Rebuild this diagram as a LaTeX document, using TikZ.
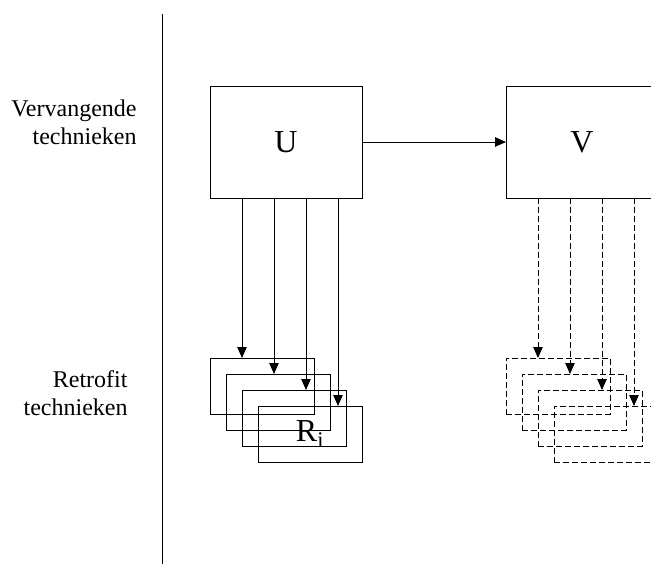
\documentclass[tikz,border=0pt]{standalone}
\usepackage{fontspec}
\setmainfont{Liberation Serif}
\usetikzlibrary{arrows.meta,calc}
\begin{document}
\begin{tikzpicture}[x=1pt,y=-1pt,
  line width=0.9pt,
  bigbox/.style={draw,minimum width=152pt,minimum height=112pt,inner sep=0pt,outer sep=0pt,font=\fontsize{32}{38}\selectfont},
  rbox/.style={draw,minimum width=104pt,minimum height=56pt,inner sep=0pt,outer sep=0pt,font=\fontsize{32}{38}\selectfont},
  dbox/.style={rbox,dash pattern=on 6pt off 3pt},
  lbl/.style={align=right,font=\fontsize{24}{28}\selectfont,anchor=east,inner sep=0pt},
  arr/.style={-{Triangle[length=11pt,width=9.5pt]}},
  darr/.style={arr,dash pattern=on 6pt off 3pt}]
\useasboundingbox (0,0) rectangle (651,564);
\clip (0,0) rectangle (651,564);
\coordinate (top) at (162,14);
\coordinate (bot) at (162,564);
\draw (top) -- (bot);
\node[lbl] (lv) at (137,122) {Vervangende\\technieken};
\node[lbl] (lr) at (128,393) {Retrofit\\technieken};
\node[bigbox] (U) at (286,142) {U};
\node[bigbox] (V) at (582,142) {V};
\draw[arr] (U) -- (V);
\node[rbox] (L0) at (262,386) {};
\node[rbox] (L1) at (278,402) {};
\node[rbox] (L2) at (294,418) {};
\node[rbox] (L3) at (310,434) {R\textsubscript{i}};
\node[dbox] (R0) at (558,386) {};
\node[dbox] (R1) at (574,402) {};
\node[dbox] (R2) at (590,418) {};
\node[dbox] (R3) at (606,434) {};
\foreach \k in {0,1,2,3}{
  \draw[arr] ($(U.south west)+(32+32*\k,0)$) coordinate (ua\k) -- (ua\k |- L\k.north);
  \draw[darr] ($(V.south west)+(32+32*\k,0)$) coordinate (va\k) -- (va\k |- R\k.north);
}
\end{tikzpicture}
\end{document}
